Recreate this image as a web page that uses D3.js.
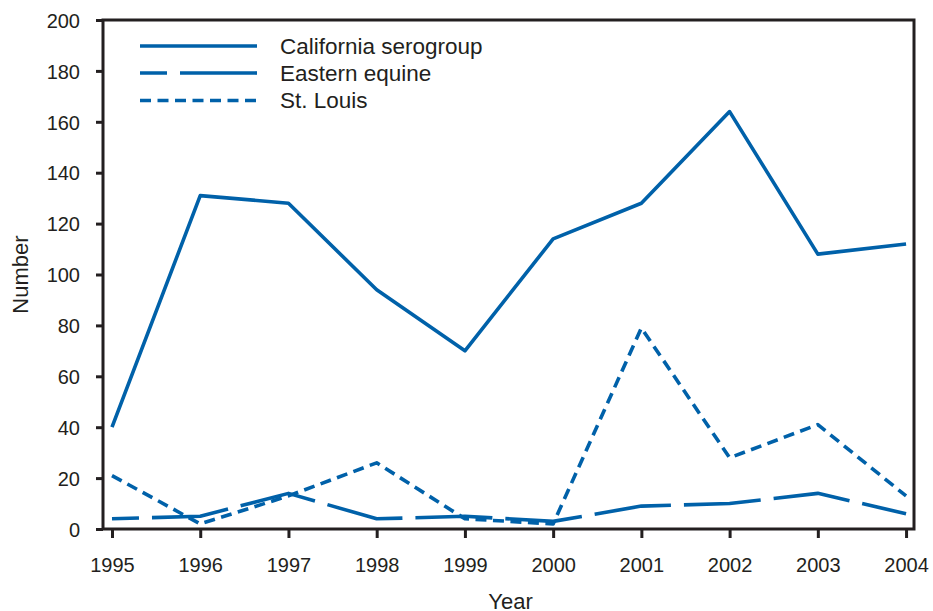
<!DOCTYPE html>
<html>
<head>
<meta charset="utf-8">
<script src="https://cdn.jsdelivr.net/npm/d3@7"></script>
<style>
  html, body { margin: 0; padding: 0; background: #fff; }
  svg { display: block; font-family: "Liberation Sans", Arial, Helvetica, sans-serif; }
</style>
</head>
<body>
<svg id="chart" width="933" height="611"></svg>
<script>
const years = [1995, 1996, 1997, 1998, 1999, 2000, 2001, 2002, 2003, 2004];
const california = [40, 131, 128, 94, 70, 114, 128, 164, 108, 112];
const easternEquine = [4, 5, 14, 4, 5, 3, 9, 10, 14, 6];
const stLouis = [21, 2, 13, 26, 4, 2, 79, 28, 41, 13];
const seriesNames = ["California serogroup", "Eastern equine", "St. Louis"];
const yTicks = [0, 20, 40, 60, 80, 100, 120, 140, 160, 180, 200];

const blue = "#0061a9";
const ink = "#231f20";
const margin = { left: 103, right: 19, top: 20, bottom: 82 };
const W = 933, H = 611;
const svg = d3.select("#chart");

const x = d3.scaleLinear()
  .domain([1994.898, 2004.09])
  .range([margin.left, W - margin.right]);
const y = d3.scaleLinear()
  .domain([0, 200])
  .range([H - margin.bottom, margin.top]);

const styles = [
  { dash: null, offset: 0 },
  { dash: "77,13", offset: 50 },
  { dash: "11,6.5", offset: 0 }
];
const seriesData = [california, easternEquine, stLouis];

// lines
const line = d3.line().x((d, i) => x(years[i])).y(d => y(d));
seriesData.forEach((s, k) => {
  svg.append("path")
    .datum(s)
    .attr("d", line)
    .attr("fill", "none")
    .attr("stroke", blue)
    .attr("stroke-width", 3.6)
    .attr("stroke-linejoin", "round")
    .attr("stroke-dasharray", styles[k].dash)
    .attr("stroke-dashoffset", styles[k].offset);
});

// frame
svg.append("rect")
  .attr("x", x.range()[0]).attr("y", y.range()[1])
  .attr("width", x.range()[1] - x.range()[0])
  .attr("height", y.range()[0] - y.range()[1])
  .attr("fill", "none").attr("stroke", ink).attr("stroke-width", 3);

// x axis
const xAxis = svg.append("g")
  .attr("transform", `translate(0,${y(0)})`)
  .call(d3.axisBottom(x).tickValues(years).tickFormat(d3.format("d")).tickSize(9).tickSizeOuter(0));
xAxis.select(".domain").remove();
xAxis.selectAll(".tick line").attr("stroke", ink).attr("stroke-width", 3);
xAxis.selectAll(".tick text")
  .attr("fill", ink).attr("font-size", 20)
  .attr("font-family", "Liberation Sans, Arial, sans-serif")
  .attr("y", 43).attr("dy", 0);

// y axis
const yAxis = svg.append("g")
  .attr("transform", `translate(${x.range()[0]},0)`)
  .call(d3.axisLeft(y).tickValues(yTicks).tickSize(7).tickSizeOuter(0));
yAxis.select(".domain").remove();
yAxis.selectAll(".tick line").attr("stroke", ink).attr("stroke-width", 3);
yAxis.selectAll(".tick text")
  .attr("fill", ink).attr("font-size", 20)
  .attr("font-family", "Liberation Sans, Arial, sans-serif")
  .attr("x", -23).attr("dy", "0.36em");

// axis titles
svg.append("text")
  .attr("x", (x.range()[0] + x.range()[1]) / 2 + 2)
  .attr("y", 609)
  .attr("text-anchor", "middle")
  .attr("font-size", 22)
  .attr("fill", ink)
  .text("Year");
svg.append("text")
  .attr("transform", `translate(28,${(y.range()[0] + y.range()[1]) / 2}) rotate(-90)`)
  .attr("text-anchor", "middle")
  .attr("font-size", 22)
  .attr("fill", ink)
  .text("Number");

// legend
const legendY = [46, 73, 100.5];
seriesNames.forEach((name, k) => {
  svg.append("line")
    .attr("x1", 140).attr("x2", 257)
    .attr("y1", legendY[k]).attr("y2", legendY[k])
    .attr("stroke", blue).attr("stroke-width", 3.6)
    .attr("stroke-dasharray", styles[k].dash)
    .attr("stroke-dashoffset", styles[k].offset);
  svg.append("text")
    .attr("x", 280).attr("y", legendY[k] + 7.5)
    .attr("font-size", 22.5)
    .attr("fill", ink)
    .text(name);
});
</script>
</body>
</html>
